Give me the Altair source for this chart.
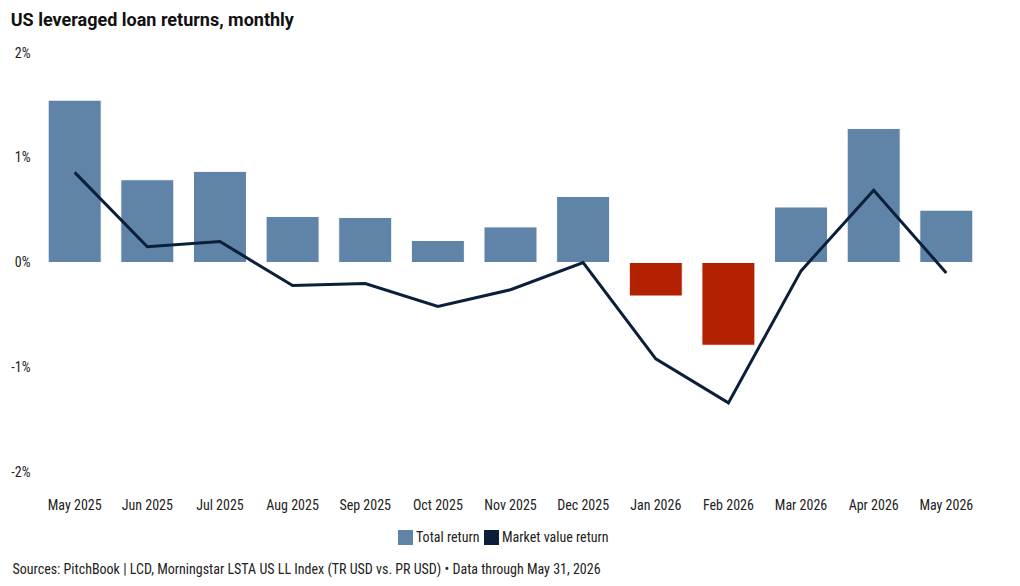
import altair as alt
import pandas as pd

months = ["May 2025", "Jun 2025", "Jul 2025", "Aug 2025", "Sep 2025", "Oct 2025",
          "Nov 2025", "Dec 2025", "Jan 2026", "Feb 2026", "Mar 2026", "Apr 2026", "May 2026"]
total_return = [1.55, 0.79, 0.87, 0.44, 0.43, 0.21, 0.34, 0.63, -0.32, -0.79, 0.53, 1.28, 0.50]
market_value_return = [0.86, 0.15, 0.20, -0.22, -0.20, -0.42, -0.26, 0.00, -0.92, -1.34, -0.08, 0.69, -0.10]

df = pd.DataFrame({
    "month": months,
    "total": [v / 100 for v in total_return],
    "mvr": [v / 100 for v in market_value_return],
    "s_total": "Total return",
    "s_mvr": "Market value return",
})

FONT = "Roboto Condensed, Liberation Sans Narrow, Roboto, sans-serif"
BLUE = "#5f84a8"
RED = "#b22200"
NAVY = "#0b1f3a"
SOURCE = "Sources: PitchBook | LCD, Morningstar LSTA US LL Index (TR USD vs. PR USD) \u2022 Data through May 31, 2026"

color_scale = alt.Scale(domain=["Total return", "Market value return"], range=[BLUE, NAVY])

x = alt.X("month:N", sort=months,
          scale=alt.Scale(paddingInner=0.27, paddingOuter=0.14),
          axis=alt.Axis(title=SOURCE, labelAngle=0, labelPadding=26, ticks=False, domain=False,
                        labelFontSize=14, labelColor="#222222", labelFont=FONT,
                        titleX=-26, titleY=90, titleAlign="left", titleFontWeight="normal",
                        titleFontSize=14, titleFont=FONT, titleColor="#222222"))

y = alt.Y("total:Q", scale=alt.Scale(domain=[-0.02, 0.02], nice=False),
          axis=alt.Axis(title=None, format=".0%", values=[-0.02, -0.01, 0, 0.01, 0.02],
                        labelExpr="replace(datum.label, '\u2212', '-')",
                        grid=False, domain=False, ticks=False, labelPadding=8,
                        labelFontSize=14, labelColor="#222222", labelFont=FONT))

legend = alt.Legend(title=None, orient="none", legendX=360, legendY=477, direction="horizontal",
                    symbolType="square", symbolSize=225, symbolStrokeWidth=0,
                    labelFontSize=14, labelFont=FONT, labelColor="#222222", columnPadding=4,
                    labelOffset=3)

bars = alt.Chart(df).mark_bar(stroke="white", strokeWidth=1).encode(
    x=x,
    y=y,
    color=alt.condition(alt.datum.total < 0, alt.value(RED),
                        alt.Color("s_total:N", scale=color_scale, legend=legend)),
)

line = alt.Chart(df).mark_line(strokeWidth=3, strokeJoin="miter").encode(
    x=x,
    y=alt.Y("mvr:Q"),
    color=alt.Color("s_mvr:N", scale=color_scale, legend=legend),
)

chart = alt.layer(bars, line).properties(
    width=945, height=419,
    title=alt.Title("US leveraged loan returns, monthly", anchor="start", offset=16,
                    fontSize=18, fontWeight="bold", font="Roboto", color="#111111"),
    autosize=alt.AutoSizeParams(type="none"),
    padding={"left": 38, "top": 53, "right": 37, "bottom": 114},
).configure(background="white").configure_view(strokeWidth=0, stroke=None)

chart.save("out.html", embed_options={"renderer": "svg", "actions": False})
